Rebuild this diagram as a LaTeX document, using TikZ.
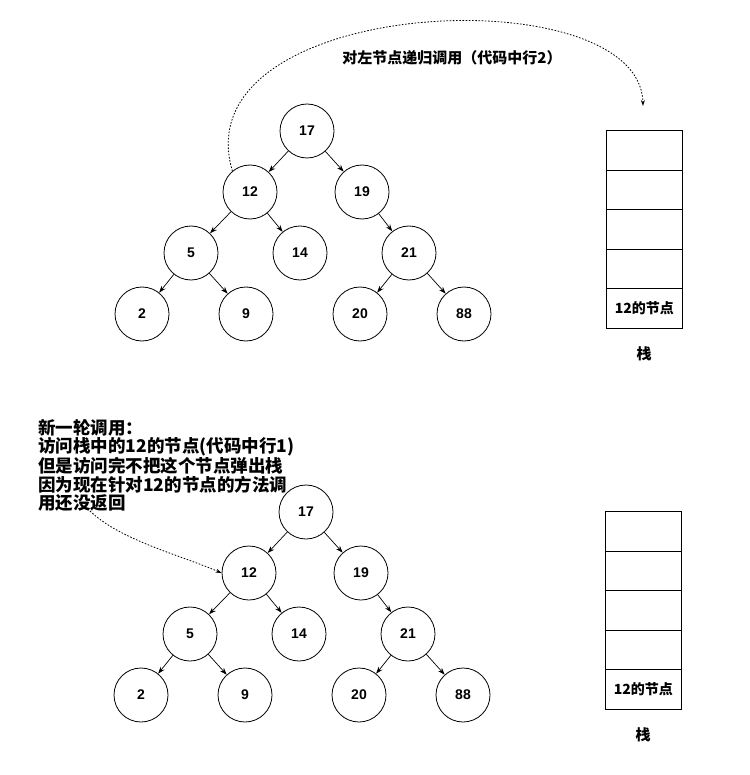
\documentclass[tikz,border=0pt]{standalone}
\usepackage{fontspec}
\setmainfont{Liberation Sans}
\newfontfamily\cjk{Noto Sans CJK SC}
\usetikzlibrary{arrows.meta}
\begin{document}
\begin{tikzpicture}[x=1pt,y=-1pt,
  tn/.style={circle,draw,line width=0.8pt,minimum size=54pt,inner sep=0pt,font=\bfseries\fontsize{14}{16}\selectfont},
  ed/.style={-{Stealth[length=7pt,width=5pt]},line width=0.7pt},
  cell/.style={draw,line width=0.8pt,minimum width=76pt,minimum height=39.6pt,inner sep=0pt,anchor=north west,font=\cjk\bfseries\fontsize{14}{16}\selectfont},
  lab/.style={font=\cjk\bfseries\fontsize{15}{17}\selectfont},
  dt/.style={dash pattern=on 1.6pt off 1.6pt,line width=0.8pt,-{Stealth[length=6pt,width=4pt]}}]
\useasboundingbox (0,0) rectangle (749,775);
\foreach \dy/\dx/\s in {0/0/a,381/-1/b}{
  \begin{scope}[yshift=-\dy pt,xshift=\dx pt]
  \node[tn] (\s17) at (307,131) {17};
  \node[tn] (\s12) at (250,192) {12};
  \node[tn] (\s19) at (362,192) {19};
  \node[tn] (\s5) at (191,253) {5};
  \node[tn] (\s14) at (300,253) {14};
  \node[tn] (\s21) at (409,253) {21};
  \node[tn] (\s2) at (142,314) {2};
  \node[tn] (\s9) at (246,314) {9};
  \node[tn] (\s20) at (360,314) {20};
  \node[tn] (\s88) at (464,314) {88};
  \draw[ed] (\s17) -- (\s12);
  \draw[ed] (\s17) -- (\s19);
  \draw[ed] (\s12) -- (\s5);
  \draw[ed] (\s12) -- (\s14);
  \draw[ed] (\s19) -- (\s21);
  \draw[ed] (\s5) -- (\s2);
  \draw[ed] (\s5) -- (\s9);
  \draw[ed] (\s21) -- (\s20);
  \draw[ed] (\s21) -- (\s88);
  \node[cell] (\s c1) at (606,130) {};
  \node[cell] (\s c2) at (606,169.6) {};
  \node[cell] (\s c3) at (606,209.2) {};
  \node[cell] (\s c4) at (606,248.8) {};
  \node[cell] (\s c5) at (606,288.4) {12的节点};
  \node[lab] (\s st) at (644,354) {栈};
  \end{scope}}
\node[lab] (t1) at (452,58) {对左节点递归调用（代码中行2）};
\coordinate (e1) at (643,106);
\draw[dt] (a12.130) .. controls (180,-5) and (640,-25) .. (e1);
\node[anchor=north west,align=left,inner sep=0pt,font=\cjk\bfseries\fontsize{17.5}{18.6}\selectfont] (t2) at (38,419) {新一轮调用：\\访问栈中的12的节点(代码中行1)\\但是访问完不把这个节点弹出栈\\因为现在针对12的节点的方法调\\用还没返回};
\coordinate (s2) at (90,511);
\draw[dt] (s2) .. controls (120,540) and (180,555) .. (b12.west);
\end{tikzpicture}
\end{document}
